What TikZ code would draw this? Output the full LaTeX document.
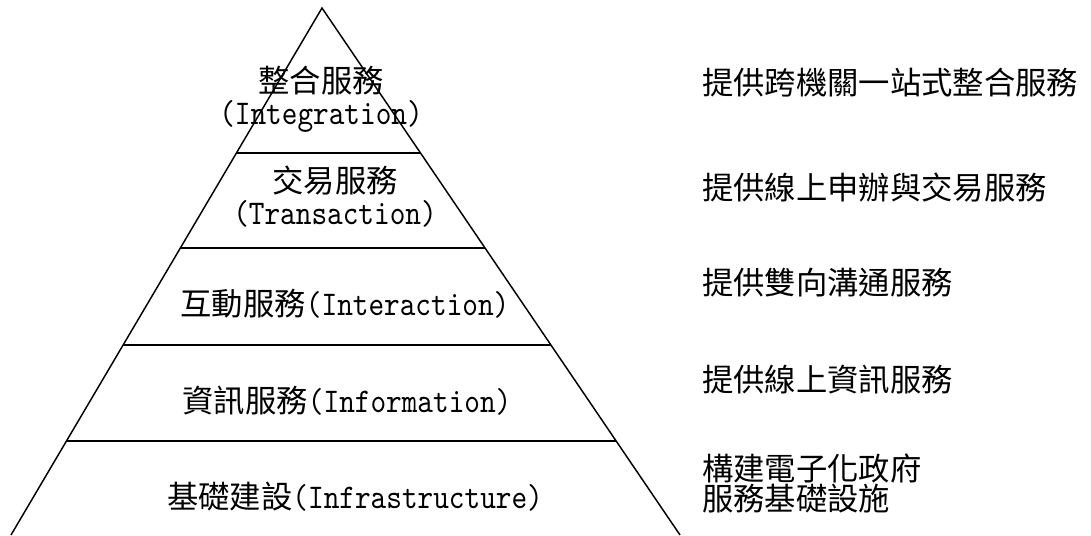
\documentclass[tikz,border=0pt]{standalone}
\usepackage{fontspec}
\setmainfont{lmmono10-regular.otf}[FakeStretch=0.86,Scale=1.106]
\newfontfamily\cjk{Noto Sans CJK TC}
\usepackage{tikz}
\usetikzlibrary{positioning,calc}
\tikzstyle{level} = [align=center,inner sep=0pt,font=\fontsize{23.5}{24}\selectfont]
\tikzstyle{note} = [anchor=west,align=left,inner sep=0pt,font=\fontsize{23.5}{22.5}\selectfont]
\tikzstyle{edge} = [line width=1.1pt]

\begin{document}
\begin{tikzpicture}[x=0.75pt,y=-0.75pt]
        \useasboundingbox (0,0) rectangle (1091,535);
        \coordinate (top) at (322,8);
        \coordinate (bl) at (11,535);
        \coordinate (br) at (680,535);
        \draw[edge] (bl) -- (top) -- (br);
        \foreach \t in {0.2751,0.4554,0.6395,0.8216}
          \draw[edge] ($(top)!\t!(bl)$) -- ($(top)!\t!(br)$);
        % levels of the pyramid
        \node[level] (lv5) at (321,99) {{\cjk 整合服務}\\(Integration)};
        \node[level] (lv4) at (335,197) {{\cjk 交易服務}\\(Transaction)};
        \node[level] (lv3) at (345,304) {{\cjk 互動服務}(Interaction)};
        \node[level] (lv2) at (347,401) {{\cjk 資訊服務}(Information)};
        \node[level] (lv1) at (355,497) {{\cjk 基礎建設}(Infrastructure)};
        % descriptions
        \node[note] (d5) at (702,83) {\cjk 提供跨機關一站式整合服務};
        \node[note] (d4) at (702,188) {\cjk 提供線上申辦與交易服務};
        \node[note] (d3) at (702,283) {\cjk 提供雙向溝通服務};
        \node[note] (d2) at (702,380) {\cjk 提供線上資訊服務};
        \node[note] (d1) at (702,483) {\cjk 構建電子化政府\\\cjk 服務基礎設施};
    \end{tikzpicture}
\end{document}
